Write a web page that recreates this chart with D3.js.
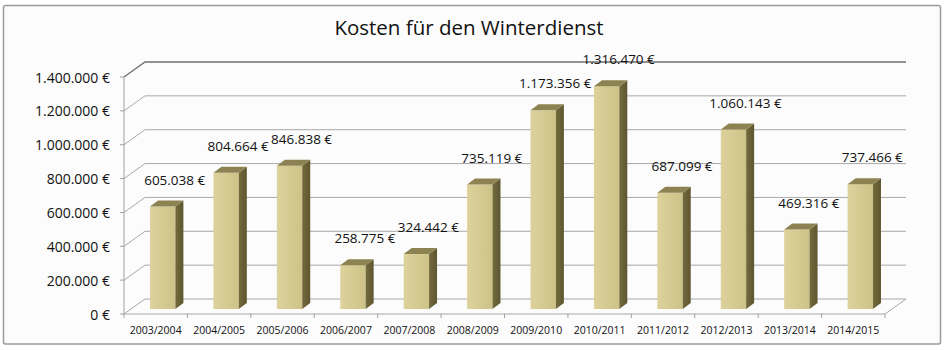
<!DOCTYPE html>
<html>
<head>
<meta charset="utf-8">
<script src="https://cdn.jsdelivr.net/npm/d3@7"></script>
<style>
  body { margin: 0; background: #ffffff; }
  text { font-family: "Open Sans", sans-serif; fill: #111; }
</style>
</head>
<body>
<div id="chart"></div>
<script>
// Data
const seasons = ["2003/2004", "2004/2005", "2005/2006", "2006/2007", "2007/2008", "2008/2009",
    "2009/2010", "2010/2011", "2011/2012", "2012/2013", "2013/2014", "2014/2015"];
const costs = [605038, 804664, 846838, 258775, 324442, 735119,
    1173356, 1316470, 687099, 1060143, 469316, 737466];
const yTicks = [0, 200000, 400000, 600000, 800000, 1000000, 1200000, 1400000];
const title = "Kosten für den Winterdienst";

function draw() {
    let dimensions = {
        width: 945,
        height: 351,
        plot: { left: 124, right: 885, top: 77, bottom: 314 },
        depth: { dx: 21, dy: -15 },
        bar: { z: 1 / 3, dx: 8, dy: -6 }
    };

    const de = d3.formatLocale({ decimal: ",", thousands: ".", grouping: [3], currency: ["", " €"] });
    const euro = de.format("$,.0f");

    const svg = d3.select("#chart")
        .append("svg")
        .attr("width", dimensions.width)
        .attr("height", dimensions.height);

    // gradients for bar faces
    const defs = svg.append("defs");
    const front = defs.append("linearGradient").attr("id", "front").attr("x1", 0).attr("x2", 1);
    front.append("stop").attr("offset", "0%").attr("stop-color", "#ddd29b");
    front.append("stop").attr("offset", "100%").attr("stop-color", "#cdc287");
    const side = defs.append("linearGradient").attr("id", "side").attr("x1", 0).attr("x2", 1);
    side.append("stop").attr("offset", "0%").attr("stop-color", "#736a3c");
    side.append("stop").attr("offset", "100%").attr("stop-color", "#5e5630");

    // frame
    svg.append("rect")
        .attr("x", 3.5).attr("y", 5.5)
        .attr("width", 937).attr("height", 338.5)
        .attr("rx", 2)
        .attr("fill", "#fcfcfc")
        .attr("stroke", "#9a9a9a")
        .attr("stroke-width", 1.5);

    svg.append("text")
        .attr("x", 469)
        .attr("y", 27)
        .attr("text-anchor", "middle")
        .attr("dominant-baseline", "central")
        .style("font-size", "20.5px")
        .text(title);

    // Scales
    const p = dimensions.plot;
    const yScale = d3.scaleLinear()
        .domain([0, 1400000])
        .range([p.bottom, p.top]);

    const xScale = d3.scaleBand()
        .domain(seasons)
        .range([p.left, p.right]);

    const barScale = d3.scaleBand()
        .domain(seasons)
        .range([p.left, p.right])
        .paddingInner(0.6)
        .paddingOuter(0.3);

    const dx = dimensions.depth.dx, dy = dimensions.depth.dy;

    // walls and gridlines
    const grid = svg.append("g").attr("fill", "none");
    yTicks.forEach(t => {
        const y = yScale(t);
        const top = t === yTicks[yTicks.length - 1];
        grid.append("path")
            .attr("d", `M${p.left},${y}L${p.left + dx},${y + dy}L${p.right + dx},${y + dy}`)
            .attr("stroke", top ? "#6f6f6f" : "#a8a8a8")
            .attr("stroke-width", top ? 1.3 : 1);
    });
    // floor
    grid.append("path")
        .attr("d", `M${p.left},${p.bottom}L${p.right},${p.bottom}L${p.right + dx},${p.bottom + dy}`)
        .attr("stroke", "#a8a8a8");

    // y axis
    const yAxis = svg.append("g");
    yAxis.append("line")
        .attr("x1", p.left).attr("x2", p.left)
        .attr("y1", p.top).attr("y2", p.bottom)
        .attr("stroke", "#a0a0a0");
    yAxis.selectAll(".tick")
        .data(yTicks)
        .join("g")
        .attr("transform", d => `translate(0,${yScale(d)})`)
        .call(g => g.append("line")
            .attr("x1", p.left - 4).attr("x2", p.left)
            .attr("stroke", "#a0a0a0"))
        .call(g => g.append("text")
            .attr("x", 110)
            .attr("text-anchor", "end")
            .attr("dominant-baseline", "central")
            .style("font-size", "14px")
            .text(d => euro(d)));

    // x axis
    const xAxis = svg.append("g");
    xAxis.selectAll("line")
        .data(seasons.concat([null]))
        .join("line")
        .attr("x1", (d, i) => i < seasons.length ? xScale(d) : p.right)
        .attr("x2", (d, i) => i < seasons.length ? xScale(d) : p.right)
        .attr("y1", p.bottom)
        .attr("y2", p.bottom + 4)
        .attr("stroke", "#a0a0a0");
    xAxis.selectAll("text")
        .data(seasons)
        .join("text")
        .attr("x", d => xScale(d) + xScale.bandwidth() / 2)
        .attr("y", 330)
        .attr("text-anchor", "middle")
        .attr("dominant-baseline", "central")
        .style("font-size", "10.5px")
        .text(d => d);

    // Bars
    const b = dimensions.bar;
    const bw = barScale.bandwidth();
    const ox = dx * b.z, oy = dy * b.z;
    const bars = svg.append("g")
        .selectAll("g")
        .data(seasons.map((s, i) => ({ season: s, value: costs[i] })))
        .join("g");

    const geo = d => {
        const x = barScale(d.season) + ox;
        const yt = yScale(d.value) + oy;
        const yb = yScale(0) + oy;
        return { x, yt, yb };
    };

    bars.append("rect")
        .attr("x", d => geo(d).x)
        .attr("y", d => geo(d).yt)
        .attr("width", bw)
        .attr("height", d => geo(d).yb - geo(d).yt)
        .attr("fill", "url(#front)");

    bars.append("path")
        .attr("d", d => {
            const g = geo(d);
            return `M${g.x + bw},${g.yt}L${g.x + bw + b.dx},${g.yt + b.dy}L${g.x + bw + b.dx},${g.yb + b.dy}L${g.x + bw},${g.yb}Z`;
        })
        .attr("fill", "url(#side)");

    bars.append("path")
        .attr("d", d => {
            const g = geo(d);
            return `M${g.x},${g.yt}L${g.x + b.dx},${g.yt + b.dy}L${g.x + bw + b.dx},${g.yt + b.dy}L${g.x + bw},${g.yt}Z`;
        })
        .attr("fill", "#8d8352");

    // value labels
    bars.append("text")
        .attr("x", d => geo(d).x + bw / 2 + 12)
        .attr("y", d => geo(d).yt - 27)
        .attr("text-anchor", "middle")
        .attr("dominant-baseline", "central")
        .style("font-size", "13.5px")
        .text(d => euro(d.value));
}

draw();
</script>
</body>
</html>
